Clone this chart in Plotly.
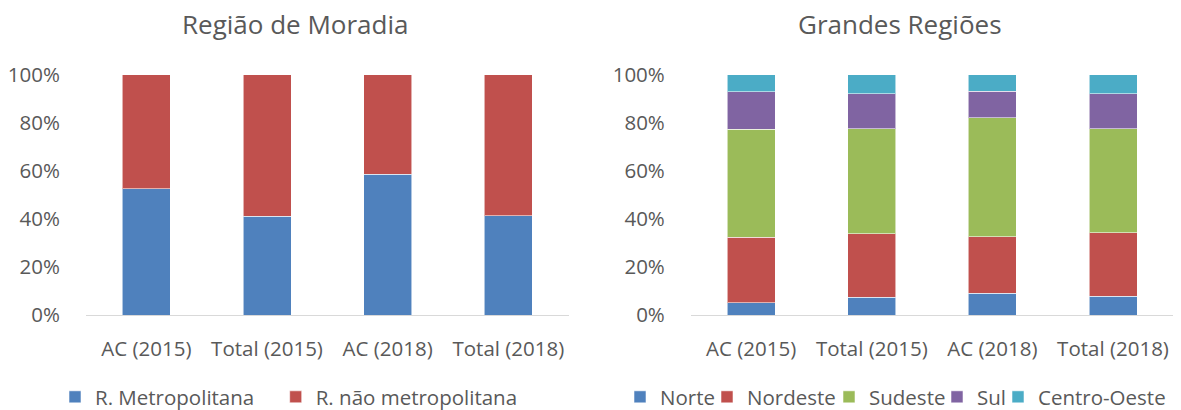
import plotly.graph_objects as go

categories = ["AC (2015)", "Total (2015)", "AC (2018)", "Total (2018)"]

# Região de Moradia (%)
metropolitana = [52.5, 41.1, 58.6, 41.3]
nao_metropolitana = [47.5, 58.9, 41.4, 58.7]

# Grandes Regiões (%)
norte = [5.3, 7.5, 9.1, 7.9]
nordeste = [27.1, 26.4, 23.6, 26.4]
sudeste = [44.9, 43.7, 49.4, 43.3]
sul = [15.6, 14.5, 11.1, 14.5]
centro_oeste = [7.1, 7.9, 6.8, 7.9]

tick_vals = [0, 20, 40, 60, 80, 100]
tick_text = ["0%", "20%", "40%", "60%", "80%", "100%"]

BLUE = "#4F81BD"
RED = "#C0504D"
GREEN = "#9BBB59"
PURPLE = "#8064A2"
CYAN = "#4BACC6"
TXT = "#595959"
FONT = "Open Sans"

W, H = 1181, 410

# left edge of each legend entry's text, in pixels (one legend box per entry)
left_series = [("R. Metropolitana", metropolitana, BLUE, 96),
               ("R. não metropolitana", nao_metropolitana, RED, 316.7)]
right_series = [("Norte", norte, BLUE, 661), ("Nordeste", nordeste, RED, 748),
                ("Sudeste", sudeste, GREEN, 870), ("Sul", sul, PURPLE, 978),
                ("Centro-Oeste", centro_oeste, CYAN, 1039)]

fig = go.Figure()
line = dict(color="rgba(255,255,255,0.55)", width=1)

legend_common = dict(orientation="h", font=dict(family=FONT, size=20.5, color=TXT),
                     bgcolor="rgba(0,0,0,0)", traceorder="normal", xanchor="left",
                     yanchor="middle", y=(H - 397) / H, itemclick=False)
legends = {}
k = 0
for series, xa, ya in [(left_series, "x", "y"), (right_series, "x2", "y2")]:
    for name, vals, col, text_x in series:
        k += 1
        lname = "legend" if k == 1 else f"legend{k}"
        fig.add_trace(go.Bar(x=categories, y=vals, name=name,
                             marker=dict(color=col, line=line),
                             xaxis=xa, yaxis=ya, legend=lname))
        legends[lname] = dict(x=(text_x - 41) / W, **legend_common)

y0 = (H - 315.3) / H
y1 = (H - 74.7) / H

xaxis_common = dict(showline=True, linecolor="#D9D9D9", linewidth=1, showgrid=False,
                    ticks="outside", ticklen=15, tickcolor="rgba(0,0,0,0)",
                    tickfont=dict(family=FONT, size=20.5, color=TXT), zeroline=False,
                    fixedrange=True)
yaxis_common = dict(range=[0, 100], tickvals=tick_vals, ticktext=tick_text, showgrid=False,
                    showline=False, zeroline=False, ticks="outside", ticklen=21,
                    tickcolor="rgba(0,0,0,0)",
                    tickfont=dict(family=FONT, size=20.5, color=TXT), fixedrange=True)

fig.update_layout(
    width=W, height=H,
    margin=dict(l=0, r=0, t=0, b=0, autoexpand=False),
    paper_bgcolor="white", plot_bgcolor="white",
    barmode="stack", bargap=0.602,
    showlegend=True,
    hovermode=False,
    xaxis=dict(domain=[86 / W, 568.7 / W], anchor="y", **xaxis_common),
    yaxis=dict(domain=[y0, y1], anchor="x", **yaxis_common),
    xaxis2=dict(domain=[690.9 / W, 1173.3 / W], anchor="y2", **xaxis_common),
    yaxis2=dict(domain=[y0, y1], anchor="x2", **yaxis_common),
    annotations=[
        dict(text="Região de Moradia", x=295 / W, y=(H - 24) / H, xref="paper", yref="paper",
             xanchor="center", yanchor="middle", showarrow=False,
             font=dict(family=FONT, size=26, color=TXT)),
        dict(text="Grandes Regiões", x=900 / W, y=(H - 24) / H, xref="paper", yref="paper",
             xanchor="center", yanchor="middle", showarrow=False,
             font=dict(family=FONT, size=26, color=TXT)),
    ],
    **legends,
)

fig.write_html("out.html", config={"displayModeBar": False},
               post_script="document.body.style.margin='0';document.body.style.overflow='hidden';")
